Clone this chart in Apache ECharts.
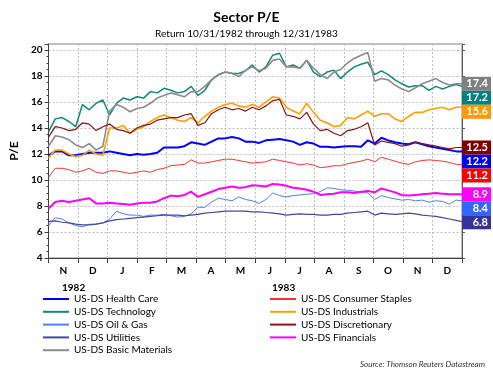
<!DOCTYPE html>
<html>
<head>
<meta charset="utf-8">
<script src="https://cdn.jsdelivr.net/npm/echarts@6/dist/echarts.min.js"></script>
<style>html,body{margin:0;padding:0;background:#fff;}#c{width:493px;height:370px;}</style>
</head>
<body>
<div id="c"></div>
<script>
// ---- Data (weekly samples from 1982-10-31, last point 1983-12-31) ----
var months = ['N','D','J','F','M','A','M','J','J','A','S','O','N','D'];
var yearLabels = ['1982','1983'];
var seriesNames = ['US-DS Health Care','US-DS Technology','US-DS Oil & Gas','US-DS Utilities','US-DS Basic Materials',
                   'US-DS Consumer Staples','US-DS Industrials','US-DS Discretionary','US-DS Financials'];

var healthCare = [11.9,12.2,12.2,11.9,11.9,12.0,12.1,12.1,12.1,12.2, 12.1,12.0,11.9,12.0,11.95,12.0,12.1,12.5,12.5,12.5,
  12.6,12.9,12.8,12.7,12.95,13.2,13.2,13.3,13.2,12.95, 12.95,12.85,13.05,13.1,13.15,13.05,12.95,12.7,12.9,12.8,
  12.55,12.55,12.5,12.55,12.6,12.6,12.55,13.05,12.8,13.25, 13.05,12.9,12.8,12.75,12.9,12.75,12.6,12.5,12.4,12.3, 12.2,12.2];
var technology = [13.7,14.7,14.8,14.5,14.1,15.8,15.4,15.9,16.15,15.0, 15.9,16.3,16.15,16.4,16.3,16.8,16.7,17.05,16.9,16.7,
  16.8,17.2,16.5,16.9,17.7,18.1,18.3,18.2,18.2,18.4, 18.85,18.3,18.7,19.6,19.75,18.7,18.85,18.6,19.2,18.3,
  17.95,18.3,18.45,17.8,18.3,18.7,18.9,19.05,18.1,18.4, 18.1,17.7,17.4,17.15,17.25,17.25,16.9,17.2,17.0,17.2, 17.35,17.2];
var oilGas = [6.5,7.1,7.0,6.7,6.5,6.4,6.6,6.6,6.7,7.0, 7.6,7.4,7.3,7.3,7.2,7.3,7.3,7.35,7.25,7.15,
  7.2,7.4,7.9,7.9,8.3,8.6,8.5,8.4,8.7,8.5, 8.4,8.2,8.5,9.0,8.8,8.7,8.8,8.85,8.9,8.95,
  9.1,9.4,9.35,9.25,9.2,9.15,9.05,9.0,8.5,8.8, 8.65,8.55,8.45,8.5,8.4,8.45,8.3,8.4,8.35,8.15, 8.45,8.4];
var utilities = [6.8,6.85,6.75,6.7,6.6,6.55,6.55,6.6,6.7,6.85, 6.95,7.0,7.05,7.1,7.15,7.2,7.25,7.3,7.3,7.3,
  7.25,7.3,7.35,7.45,7.5,7.55,7.6,7.6,7.6,7.6, 7.55,7.55,7.5,7.45,7.4,7.3,7.35,7.4,7.35,7.35,
  7.3,7.3,7.35,7.35,7.45,7.5,7.55,7.6,7.3,7.45, 7.4,7.35,7.4,7.45,7.4,7.3,7.25,7.2,7.1,7.0, 6.9,6.8];
var basicMaterials = [12.6,13.4,13.3,13.1,12.7,12.5,12.8,12.3,12.6,15.3, 15.8,15.6,15.25,15.5,15.6,15.9,16.3,16.5,16.7,16.55,
  16.4,16.8,16.8,17.2,17.7,18.1,18.3,18.2,17.95,18.45, 18.7,18.4,18.6,19.2,19.3,18.7,18.7,18.6,19.2,18.6,
  18.1,17.8,18.3,18.5,19.0,19.35,19.6,19.8,17.6,17.8, 17.7,17.3,17.0,16.8,17.1,17.4,17.6,17.8,17.5,17.3, 17.4,17.4];
var consumerStaples = [10.2,10.9,10.9,10.8,10.6,10.7,10.9,10.6,10.5,10.7, 10.7,10.6,10.5,10.6,10.7,10.6,10.8,10.9,11.1,11.15,
  11.2,11.55,11.3,11.3,11.4,11.5,11.6,11.6,11.5,11.4, 11.3,11.35,11.4,11.6,11.5,11.4,11.3,11.15,11.25,11.15,
  10.95,11.0,11.1,11.1,11.25,11.35,11.45,11.6,11.4,11.75, 11.6,11.45,11.3,11.2,11.4,11.5,11.55,11.5,11.45,11.35, 11.2,11.2];
var industrials = [11.7,12.3,12.3,12.0,11.8,11.9,12.3,12.0,11.9,14.0, 14.0,14.2,13.6,13.9,14.1,14.5,14.8,15.0,14.8,14.6,
  14.5,14.8,14.4,14.9,15.3,15.6,15.8,15.9,15.7,15.6, 15.8,15.6,16.0,16.4,16.3,15.6,15.3,15.1,15.9,15.2,
  14.6,14.4,14.1,14.2,14.8,14.7,15.0,15.3,14.9,15.1, 15.1,14.7,14.5,14.9,15.2,15.2,15.4,15.5,15.6,15.4, 15.6,15.6];
var discretionary = [13.3,14.1,14.0,13.8,13.9,14.4,14.3,13.8,14.1,14.3, 13.9,13.8,13.6,14.0,14.2,14.3,14.6,14.7,14.8,14.8,
  15.0,15.1,14.2,14.4,15.1,15.4,15.6,15.4,15.5,15.3, 15.6,15.4,15.7,16.1,16.2,15.0,14.9,14.7,15.2,14.3,
  13.8,13.9,13.6,13.4,13.8,13.9,14.1,14.4,12.7,13.0, 12.9,12.8,12.6,12.7,12.9,12.8,12.7,12.6,12.5,12.4, 12.5,12.5];
var financials = [7.8,8.3,8.4,8.3,8.4,8.5,8.6,8.2,8.2,8.25, 8.2,8.15,8.1,8.2,8.25,8.25,8.35,8.6,8.8,8.75,
  8.85,9.1,8.7,8.9,9.1,9.3,9.4,9.5,9.4,9.45, 9.6,9.55,9.5,9.7,9.65,9.55,9.4,9.35,9.25,9.1,
  8.85,8.9,8.95,9.05,9.05,9.0,9.1,9.15,9.05,9.35, 9.2,9.05,8.85,8.8,8.85,8.9,8.95,9.0,8.95,8.9, 8.9,8.9];

// ---- Dates ----
var startDate = Date.UTC(1982, 9, 31);
var endDate = Date.UTC(1983, 11, 31);
var dates = [];
for (var i = 0; i < 61; i++) dates.push(startDate + i * 7 * 86400000);
dates.push(endDate);

var values = [healthCare, technology, oilGas, utilities, basicMaterials, consumerStaples, industrials, discretionary, financials];
var lineColors = ['#0000ff','#118a7e','#4f7dff','#4646a2','#8c8c8c','#ff3030','#ffa000','#8b1414','#ff00ff'];
var boxColors  = ['#0000ff','#008080','#3366ff','#333399','#808080','#ff0000','#ff9900','#800000','#ff00ff'];
var widths     = [2, 1.5, 1, 1.2, 1.6, 1, 1.6, 1.2, 2];

var font = 'Lato';
var series = values.map(function (arr, k) {
  return {
    name: seriesNames[k],
    type: 'line',
    xAxisIndex: 0,
    yAxisIndex: 0,
    showSymbol: false,
    symbol: 'none',
    color: lineColors[k],
    lineStyle: { width: widths[k], color: lineColors[k] },
    data: arr.map(function (v, j) { return [dates[j], v]; }),
    endLabel: {
      show: true,
      distance: 0,
      formatter: function (p) { return '{a|' + p.value[1].toFixed(1) + '}'; },
      backgroundColor: boxColors[k],
      padding: [1, 3, 1, 2],
      rich: { a: { width: 24, align: 'right', color: '#fff', fontWeight: 'bold', fontSize: 11, lineHeight: 12, fontFamily: font } }
    },
    labelLayout: { moveOverlap: 'shiftY' },
    emphasis: { disabled: true }
  };
});

var chart = echarts.init(document.getElementById('c'), null, { renderer: 'canvas' });
chart.setOption({
  animation: false,
  backgroundColor: '#fff',
  textStyle: { fontFamily: font },
  title: {
    text: 'Sector P/E',
    subtext: 'Return 10/31/1982 through 12/31/1983',
    left: 'center', top: 5, itemGap: 5,
    textStyle: { fontSize: 14, fontWeight: 'bold', color: '#000', fontFamily: font },
    subtextStyle: { fontSize: 10, color: '#000', fontFamily: font }
  },
  grid: { left: 41, right: 31, top: 44, bottom: 112, show: true, borderColor: '#808080', borderWidth: 1 },
  legend: [
    { data: seriesNames.slice(0, 5), orient: 'vertical', left: 43, top: 293, icon: 'rect',
      itemWidth: 26, itemHeight: 2, itemGap: 0.8, padding: 0,
      textStyle: { fontSize: 10, lineHeight: 12, color: '#000', fontFamily: font } },
    { data: seriesNames.slice(5), orient: 'vertical', left: 270, top: 293, icon: 'rect',
      itemWidth: 26, itemHeight: 2, itemGap: 0.8, padding: 0,
      textStyle: { fontSize: 10, lineHeight: 12, color: '#000', fontFamily: font } }
  ],
  xAxis: [
    { type: 'time', min: startDate, max: endDate, show: false },
    { type: 'category', data: months, position: 'bottom', boundaryGap: true,
      axisLine: { show: true, onZero: false, lineStyle: { color: '#404040' } },
      axisTick: { show: true, length: 5, interval: 0, lineStyle: { color: '#404040' } },
      axisLabel: { show: true, interval: 0, margin: 8, fontSize: 10, fontWeight: 'bold', color: '#000', fontFamily: font },
      splitLine: { show: true, interval: 0, lineStyle: { color: '#bfbfbf', type: [2, 2] } } }
  ],
  yAxis: [
    { type: 'value', min: 4, max: 20.46, interval: 2, position: 'left',
      name: 'P/E', nameLocation: 'middle', nameGap: 24,
      nameTextStyle: { fontSize: 12, fontWeight: 'bold', color: '#000', fontFamily: font },
      axisLine: { show: true, lineStyle: { color: '#404040' } },
      axisTick: { show: true, length: 4, lineStyle: { color: '#404040' } },
      minorTick: { show: true, splitNumber: 4, length: 2, lineStyle: { color: '#404040' } },
      axisLabel: { fontSize: 10, fontWeight: 'bold', color: '#000', margin: 6, fontFamily: font,
        formatter: function (v) { return (Math.abs(v % 2) < 1e-9) ? String(v) : ''; } },
      splitLine: { show: true, lineStyle: { color: '#bfbfbf', type: [2, 2] } } },
    { type: 'value', min: 4, max: 20.46, interval: 2, position: 'right',
      axisLine: { show: true, lineStyle: { color: '#595959' } },
      axisTick: { show: true, length: 3, lineStyle: { color: '#595959' } },
      axisLabel: { show: false }, splitLine: { show: false } }
  ],
  graphic: [
    { type: 'text', left: 62, top: 283, style: { text: yearLabels[0], font: 'bold 10px ' + font, fill: '#000' } },
    { type: 'text', left: 272, top: 283, style: { text: yearLabels[1], font: 'bold 10px ' + font, fill: '#000' } },
    { type: 'text', right: 8, top: 360, style: { text: 'Source: Thomson Reuters Datastream', font: 'italic 8px ' + font, fill: '#333' } }
  ],
  series: series
});
</script>
</body>
</html>
